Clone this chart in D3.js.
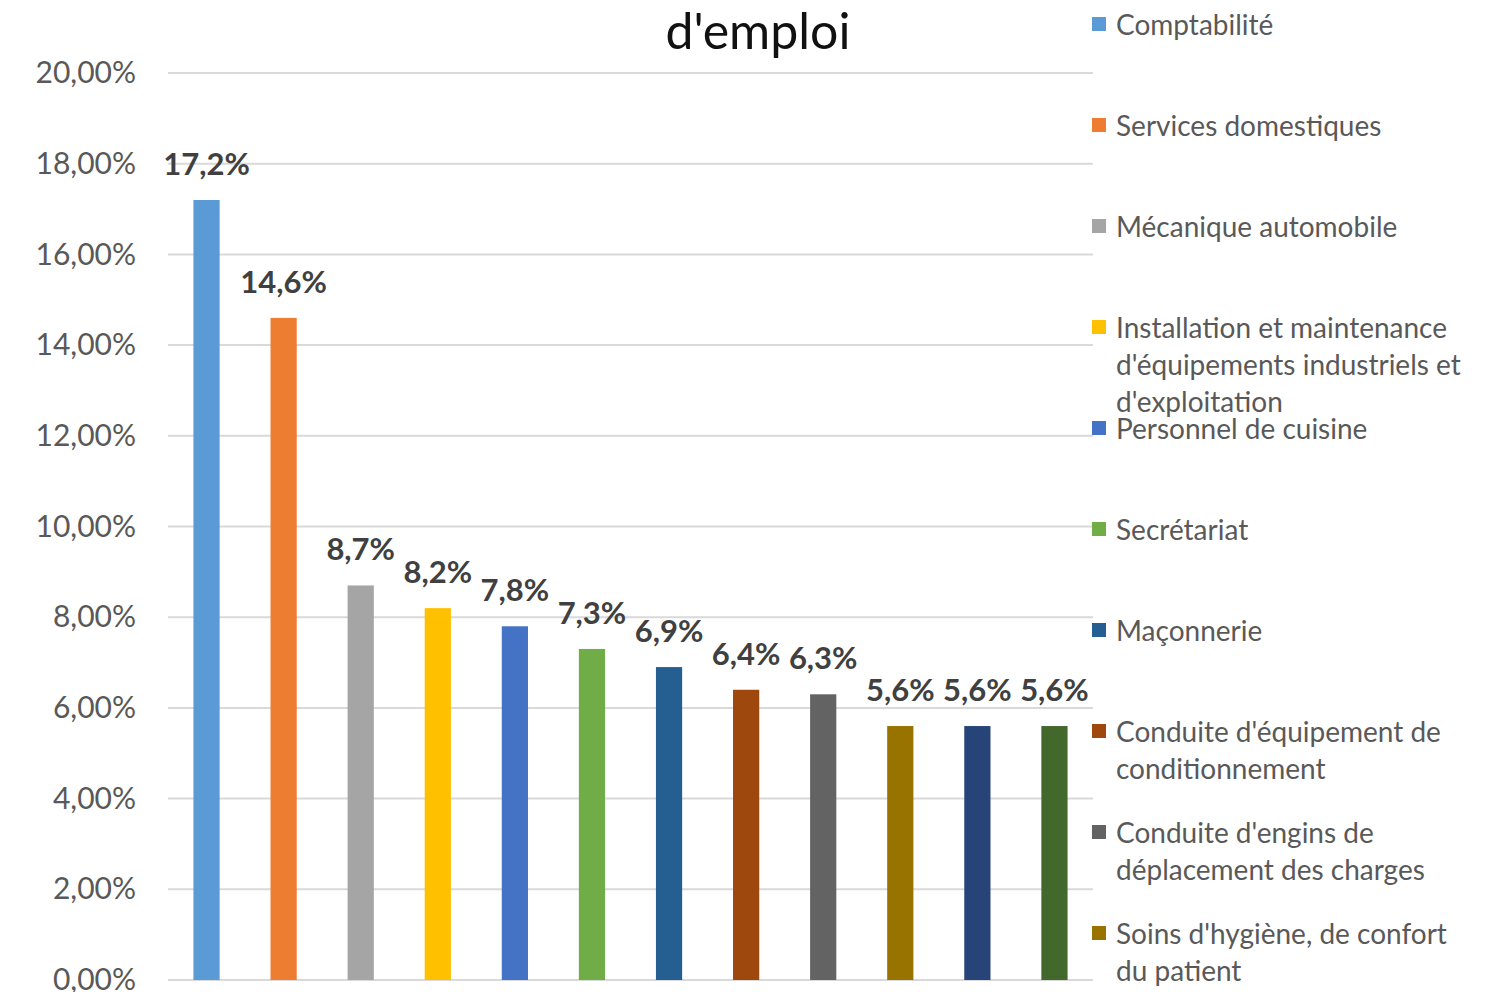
<!DOCTYPE html>
<html>
<head>
<meta charset="utf-8">
<script src="https://cdn.jsdelivr.net/npm/d3@7"></script>
<style>
  body { margin: 0; background: #fff; overflow: hidden; }
  text { font-family: Lato, "Open Sans", sans-serif; }
</style>
</head>
<body>
<div id="chart"></div>
<script>
// data
var categories = [
  "Comptabilité",
  "Services domestiques",
  "Mécanique automobile",
  "Installation et maintenance d'équipements industriels et d'exploitation",
  "Personnel de cuisine",
  "Secrétariat",
  "Maçonnerie",
  "Conduite d'équipement de conditionnement",
  "Conduite d'engins de déplacement des charges",
  "Soins d'hygiène, de confort du patient",
  "Catégorie 11",
  "Catégorie 12"
];
var values = [17.2, 14.6, 8.7, 8.2, 7.8, 7.3, 6.9, 6.4, 6.3, 5.6, 5.6, 5.6];
var yTicks = [0, 2, 4, 6, 8, 10, 12, 14, 16, 18, 20];
var colors = ["#5B9BD5", "#ED7D31", "#A5A5A5", "#FFC000", "#4472C4", "#70AD47",
              "#255E91", "#9E480E", "#636363", "#997300", "#264478", "#43682B"];
var title = "d'emploi";

var W = 1510, H = 992;
var margin = {top: 73, right: 417, bottom: 12, left: 168},
    width = W - margin.left - margin.right,
    height = H - margin.top - margin.bottom;

var fr = d3.formatLocale({decimal: ",", thousands: " ", grouping: [3], currency: ["", "€"]});
var tickFmt = fr.format(".2%");
var labelFmt = fr.format(".1f");

var root = d3.select("#chart")
    .append("svg")
    .attr("width", W)
    .attr("height", H);

var svg = root.append("g")
    .attr("transform", `translate(${margin.left},${margin.top})`);

var x = d3.scaleBand()
    .domain(categories)
    .range([0, width])
    .paddingInner(0.66)
    .paddingOuter(0.33);

var y = d3.scaleLinear()
    .domain([0, 20])
    .range([height, 0]);

// gridlines
svg.append("g")
    .selectAll("line")
    .data(yTicks)
    .join("line")
    .attr("x1", 0)
    .attr("x2", width)
    .attr("y1", d => y(d))
    .attr("y2", d => y(d))
    .attr("stroke", "#D9D9D9")
    .attr("stroke-width", 2);

// y axis labels
var yAxis = svg.append("g")
    .call(d3.axisLeft(y).tickValues(yTicks).tickSize(0).tickPadding(32).tickFormat(d => tickFmt(d / 100)));
yAxis.select(".domain").remove();
yAxis.selectAll("text")
    .attr("font-family", "Lato, sans-serif")
    .style("font-size", "30px")
    .attr("fill", "#595959");

// bars
svg.append("g")
    .selectAll("rect")
    .data(values)
    .join("rect")
    .attr("x", (d, i) => x(categories[i]))
    .attr("y", d => y(d))
    .attr("width", x.bandwidth())
    .attr("height", d => height - y(d))
    .attr("fill", (d, i) => colors[i]);

// value labels
svg.append("g")
    .selectAll("text")
    .data(values)
    .join("text")
    .attr("x", (d, i) => x(categories[i]) + x.bandwidth() / 2)
    .attr("y", d => y(d) - 37)
    .attr("text-anchor", "middle")
    .attr("dominant-baseline", "central")
    .style("font-size", "31px")
    .style("font-weight", "bold")
    .attr("fill", "#404040")
    .text(d => labelFmt(d) + "%");

// title
root.append("text")
    .attr("x", 758)
    .attr("y", 30)
    .attr("text-anchor", "middle")
    .attr("dominant-baseline", "central")
    .style("font-size", "50px")
    .attr("fill", "#111")
    .text(title);

// legend
var legend = root.append("g")
    .attr("transform", "translate(1092, 24)");
var maxW = 355;
categories.forEach(function(name, i) {
    var g = legend.append("g").attr("transform", `translate(0, ${i * 101})`);
    g.append("rect")
        .attr("x", 0).attr("y", -7)
        .attr("width", 14).attr("height", 14)
        .attr("fill", colors[i]);
    var t = g.append("text")
        .attr("x", 24)
        .attr("dominant-baseline", "central")
        .style("font-size", "28px")
        .attr("fill", "#595959");
    // wrap words onto lines
    var words = name.split(" "), line = [];
    var tspan = t.append("tspan").attr("x", 24).attr("dy", 0);
    words.forEach(function(w) {
        line.push(w);
        tspan.text(line.join(" "));
        if (tspan.node().getComputedTextLength() > maxW && line.length > 1) {
            line.pop();
            tspan.text(line.join(" "));
            line = [w];
            tspan = t.append("tspan").attr("x", 24).attr("dy", 37).text(w);
        }
    });
});
</script>
</body>
</html>
